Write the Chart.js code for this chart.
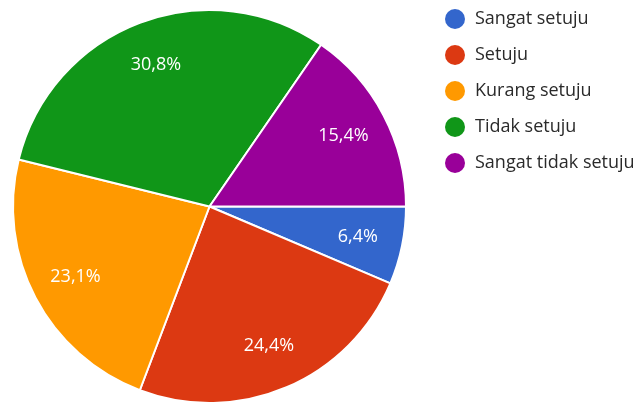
<!DOCTYPE html>
<html>
<head>
<meta charset="utf-8">
<script src="https://cdn.jsdelivr.net/npm/chart.js@4"></script>
<style>
  html, body { margin: 0; padding: 0; background: #fff; }
  #wrap { position: relative; width: 641px; height: 404px; }
</style>
</head>
<body>
<div id="wrap"><canvas id="chart"></canvas></div>
<script>
// jawaban kuesioner (persen)
const labels = ["Sangat setuju", "Setuju", "Kurang setuju", "Tidak setuju", "Sangat tidak setuju"];
const values = [6.4, 24.4, 23.1, 30.8, 15.4];
const colors = ["#3366cc", "#dc3912", "#ff9900", "#109618", "#990099"];

const FONT = "'Open Sans', sans-serif";

function percentText(value) {
  return value.toFixed(1).replace(".", ",") + "%";
}

// persentase di dalam irisan
const sliceLabels = {
  id: "sliceLabels",
  afterDatasetsDraw(chart) {
    const { ctx } = chart;
    const meta = chart.getDatasetMeta(0);
    ctx.save();
    ctx.font = "18px " + FONT;
    ctx.fillStyle = "#fff";
    ctx.textAlign = "center";
    ctx.textBaseline = "middle";
    meta.data.forEach((arc, i) => {
      const { x, y, startAngle, endAngle, outerRadius } = arc.getProps(["x", "y", "startAngle", "endAngle", "outerRadius"], true);
      const mid = (startAngle + endAngle) / 2;
      const r = outerRadius * 0.77;
      ctx.fillText(percentText(chart.data.datasets[0].data[i]), x + Math.cos(mid) * r, y + Math.sin(mid) * r);
    });
    ctx.restore();
  }
};

// legenda di kanan
const sideLegend = {
  id: "sideLegend",
  afterDraw(chart) {
    const { ctx } = chart;
    const ds = chart.data.datasets[0];
    ctx.save();
    ctx.font = "18px " + FONT;
    ctx.textBaseline = "middle";
    chart.data.labels.forEach((label, i) => {
      const cy = 19 + i * 36;
      ctx.fillStyle = ds.backgroundColor[i];
      ctx.beginPath();
      ctx.arc(455, cy, 10, 0, Math.PI * 2);
      ctx.fill();
      ctx.fillStyle = "#2a2a2a";
      ctx.fillText(label, 475, cy);
    });
    ctx.restore();
  }
};

new Chart(document.getElementById("chart"), {
  type: "pie",
  data: {
    labels,
    datasets: [{
      data: values,
      backgroundColor: colors,
      borderColor: "#fff",
      borderWidth: 2
    }]
  },
  options: {
    responsive: true,
    maintainAspectRatio: false,
    animation: false,
    rotation: 90,
    layout: { padding: { left: 9, top: 9, right: 231, bottom: -4 } },
    plugins: {
      legend: { display: false },
      tooltip: { enabled: false }
    }
  },
  plugins: [sliceLabels, sideLegend]
});
</script>
</body>
</html>
